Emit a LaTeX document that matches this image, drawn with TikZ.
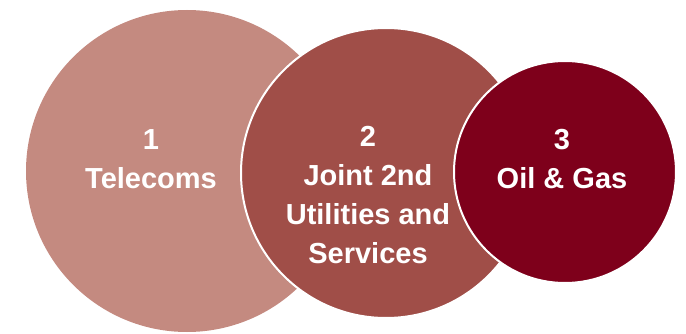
\documentclass[tikz,border=0pt]{standalone}
\usepackage{fontspec}
\setmainfont{Liberation Sans}
\usepackage{tikz}
\usetikzlibrary{positioning}

\definecolor{rankone}{HTML}{C48A80}
\definecolor{ranktwo}{HTML}{A04E48}
\definecolor{rankthree}{HTML}{7E001B}

\begin{document}
\begin{tikzpicture}[x=1pt, y=1pt, every node/.style={font=\fontsize{29}{39}\selectfont\bfseries, text=white, align=center}]
  \useasboundingbox (0,0) rectangle (686,333);
  % the three rank circles, each laid over the one before
  \node[circle, fill=rankone, inner sep=0, minimum size=322pt] (telecoms) at (187,162) {};
  \node[circle, fill=ranktwo, draw=white, line width=2pt, inner sep=0, minimum size=290pt] (utilities) at (386,160) {};
  \node[circle, fill=rankthree, draw=white, line width=2pt, inner sep=0, minimum size=222pt] (oilgas) at (565,161) {};
  % rank and sector (base is the last line)
  \node[anchor=base] (telecomslbl) at (151,145) {1\\Telecoms};
  \node[anchor=base] (utilitieslbl) at (368,70) {2\\Joint 2nd\\Utilities and\\Services};
  \node[anchor=base] (oilgaslbl) at (562,145) {3\\Oil \& Gas};
\end{tikzpicture}
\end{document}
